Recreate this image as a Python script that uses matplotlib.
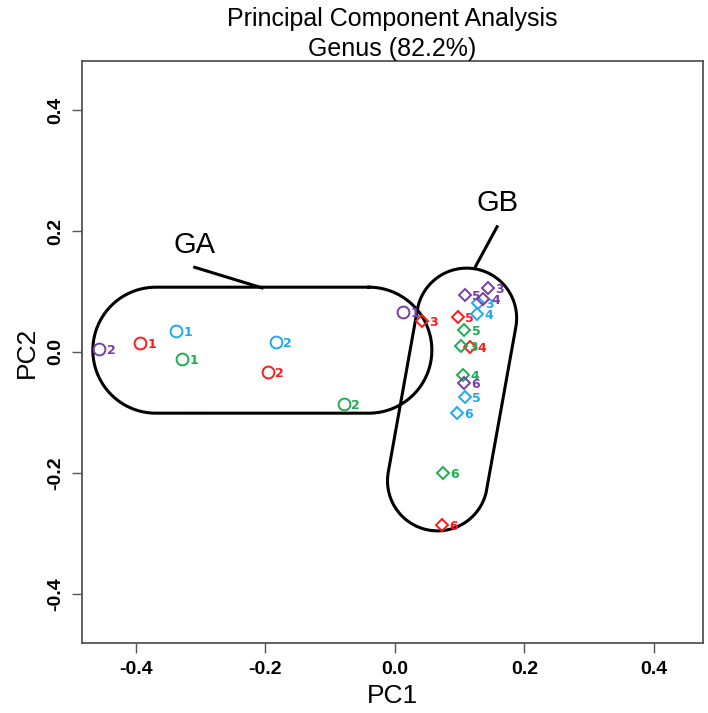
import numpy as np
import matplotlib
matplotlib.use("Agg")
import matplotlib.pyplot as plt

# sample scores (PC1, PC2) per group
groups = ["red", "cyan", "green", "purple"]
colors = {"red": "#ff1a1a", "cyan": "#1ea9ef", "green": "#1aaf50", "purple": "#7a3db0"}

# circles (GA)
ga_pc1 = {"red": [-0.394, -0.196], "cyan": [-0.338, -0.184],
          "green": [-0.329, -0.079], "purple": [0.012, -0.456]}
ga_pc2 = {"red": [0.015, -0.033], "cyan": [0.035, 0.017],
          "green": [-0.012, -0.086], "purple": [0.066, 0.005]}
ga_lab = {"red": ["1", "2"], "cyan": ["1", "2"],
          "green": ["1", "2"], "purple": ["1", "2"]}

# diamonds (GB)
gb_pc1 = {"red": [0.042, 0.116, 0.097, 0.073],
          "cyan": [0.128, 0.127, 0.108, 0.096],
          "green": [0.103, 0.105, 0.107, 0.074],
          "purple": [0.144, 0.137, 0.108, 0.107]}
gb_pc2 = {"red": [0.051, 0.008, 0.058, -0.286],
          "cyan": [0.081, 0.063, -0.074, -0.101],
          "green": [0.010, -0.038, 0.036, -0.200],
          "purple": [0.106, 0.088, 0.094, -0.051]}
gb_lab = {"red": ["3", "4", "5", "6"], "cyan": ["3", "4", "5", "6"],
          "green": ["3", "4", "5", "6"], "purple": ["3", "4", "5", "6"]}

xlim = (-0.483, 0.476)
ylim = (-0.481, 0.481)
xticks = [-0.4, -0.2, 0.0, 0.2, 0.4]
yticks = [-0.4, -0.2, 0.0, 0.2, 0.4]

narrow = ["Liberation Sans Narrow", "Liberation Sans", "DejaVu Sans"]

fig = plt.figure(figsize=(7.08, 7.13), dpi=100)
ax = fig.add_axes([82 / 708, 1 - 643 / 713, 621 / 708, 582 / 713])
ax.set_xlim(*xlim)
ax.set_ylim(*ylim)

# px per data unit, used to draw round-capped outlines
sx = 621 / (xlim[1] - xlim[0])
sy = 582 / (ylim[1] - ylim[0])


def stadium(c1, c2, r_px):
    p1 = np.array([c1[0] * sx, c1[1] * sy])
    p2 = np.array([c2[0] * sx, c2[1] * sy])
    a = np.arctan2(*(p2 - p1)[::-1])
    t2 = np.linspace(a + np.pi / 2, a - np.pi / 2, 100)
    t1 = np.linspace(a - np.pi / 2, a - 3 * np.pi / 2, 100)
    xs = np.concatenate([p2[0] + r_px * np.cos(t2), p1[0] + r_px * np.cos(t1)])
    ys = np.concatenate([p2[1] + r_px * np.sin(t2), p1[1] + r_px * np.sin(t1)])
    xs = np.append(xs, xs[0])
    ys = np.append(ys, ys[0])
    return xs / sx, ys / sy


gx, gy = stadium((-0.369, 0.003), (-0.040, 0.003), 63)
ax.plot(gx, gy, color="black", lw=2.2, zorder=1)
bx, by = stadium((0.066, -0.213), (0.111, 0.056), 50)
ax.plot(bx, by, color="black", lw=2.2, zorder=1)

ax.plot([-0.309, -0.205], [0.140, 0.106], color="black", lw=2.2)
ax.plot([0.158, 0.124], [0.207, 0.140], color="black", lw=2.2)
ax.text(-0.309, 0.177, "GA", fontsize=21, ha="center", va="center", family=narrow)
ax.text(0.158, 0.246, "GB", fontsize=21, ha="center", va="center", family=narrow)

for g in groups:
    c = colors[g]
    ax.plot(ga_pc1[g], ga_pc2[g], linestyle="none", marker="o", markersize=8.5,
            markerfacecolor="none", markeredgecolor=c, markeredgewidth=1.4, zorder=3)
    for x, y, s in zip(ga_pc1[g], ga_pc2[g], ga_lab[g]):
        ax.annotate(s, (x, y), xytext=(5.5, -1), textcoords="offset points",
                    color=c, fontsize=9, fontweight="bold", va="center", ha="left")
    ax.plot(gb_pc1[g], gb_pc2[g], linestyle="none", marker="D", markersize=6.5,
            markerfacecolor="none", markeredgecolor=c, markeredgewidth=1.4, zorder=3)
    for x, y, s in zip(gb_pc1[g], gb_pc2[g], gb_lab[g]):
        ax.annotate(s, (x, y), xytext=(5.5, -1), textcoords="offset points",
                    color=c, fontsize=9, fontweight="bold", va="center", ha="left")

ax.set_xticks(xticks)
ax.set_yticks(yticks)
ax.set_xticklabels([f"{v:.1f}" for v in xticks], family=narrow, fontweight="bold", fontsize=14)
ax.set_yticklabels([f"{v:.1f}" for v in yticks], family=narrow, fontweight="bold", fontsize=14,
                   rotation=90, va="center")
ax.tick_params(length=7, width=1, color="#555555", pad=6)
for sp in ax.spines.values():
    sp.set_color("#555555")
    sp.set_linewidth(1.3)

ax.set_xlabel("PC1", family=narrow, fontsize=19, labelpad=4)
ax.set_ylabel("PC2", family=narrow, fontsize=19, labelpad=6)
ax.set_title("Principal Component Analysis\nGenus (82.2%)", family=narrow,
             fontsize=18, pad=3, linespacing=1.3)

fig.savefig("out.png", dpi=100)
